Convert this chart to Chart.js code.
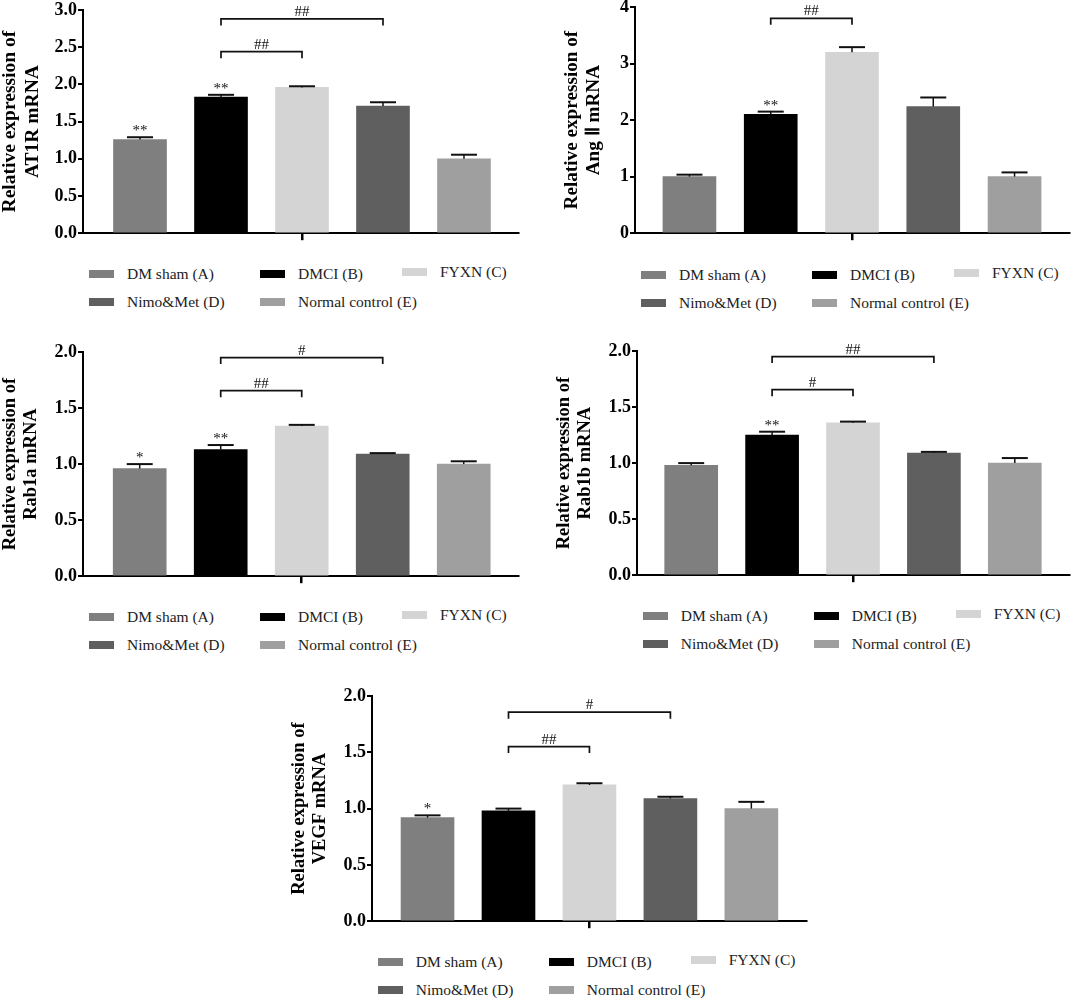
<!DOCTYPE html>
<html>
<head>
<meta charset="utf-8">
<script src="https://cdn.jsdelivr.net/npm/chart.js@4.4.1/dist/chart.umd.min.js"></script>
<style>
  body { margin: 0; background: #fff; }
  #page { position: relative; width: 1072px; height: 1000px; overflow: hidden; background: #fff; }
  canvas { position: absolute; }
  .item { position: absolute; display: flex; align-items: center; height: 20px; white-space: nowrap;
          font-family: "Liberation Serif", "Times New Roman", serif; font-size: 15.5px; color: #222; }
  .sw { display: inline-block; width: 25px; height: 8px; margin-right: 13px; }
</style>
</head>
<body>
<div id="page"></div>
<script>
// groups and their bar colours
const groups = ['DM sham (A)', 'DMCI (B)', 'FYXN (C)', 'Nimo&Met (D)', 'Normal control (E)'];
const colors = ['#7f7f7f', '#000000', '#d4d4d4', '#5f5f5f', '#9f9f9f'];

// AT1R
const at1rValues = [1.26, 1.83, 1.96, 1.71, 1.0];
const at1rErrors = [0.03, 0.03, 0.015, 0.05, 0.055];
const at1rStars = ['**', '**', '', '', ''];
const at1rBrackets = [[1, 3, 2.88, '##'], [1, 2, 2.44, '##']];

// Ang II
const angValues = [1.0, 2.1, 3.2, 2.24, 1.0];
const angErrors = [0.035, 0.05, 0.09, 0.16, 0.075];
const angStars = ['', '**', '', '', ''];
const angBrackets = [[1, 2, 3.8, '##']];

// Rab1a
const rab1aValues = [0.96, 1.13, 1.34, 1.09, 1.0];
const rab1aErrors = [0.04, 0.04, 0.01, 0.008, 0.025];
const rab1aStars = ['*', '**', '', '', ''];
const rab1aBrackets = [[1, 3, 1.95, '#'], [1, 2, 1.655, '##']];

// Rab1b
const rab1bValues = [0.98, 1.25, 1.36, 1.09, 1.0];
const rab1bErrors = [0.02, 0.03, 0.01, 0.01, 0.045];
const rab1bStars = ['', '**', '', '', ''];
const rab1bBrackets = [[1, 3, 1.95, '##'], [1, 2, 1.655, '#']];

// VEGF
const vegfValues = [0.92, 0.98, 1.21, 1.09, 1.0];
const vegfErrors = [0.02, 0.02, 0.015, 0.015, 0.06];
const vegfStars = ['*', '', '', '', ''];
const vegfBrackets = [[1, 3, 1.856, '#'], [1, 2, 1.551, '##']];

const serif = '"Liberation Serif", "Times New Roman", serif';

// where each panel's plot area sits on the page
const panels = [
  { title: ['Relative expression of', 'AT1R mRNA'], values: at1rValues, errors: at1rErrors, stars: at1rStars, brackets: at1rBrackets,
    yMax: 3, yStep: 0.5, digits: 1, box: { x: 83, top: 10, bottom: 235, right: 518, xMin: -0.704, xMax: 4.667, titlePad: 0, titleSize: 19.5 } },
  { title: ['Relative expression of', 'Ang Ⅱ mRNA'], values: angValues, errors: angErrors, stars: angStars, brackets: angBrackets,
    yMax: 4, yStep: 1, digits: 0, box: { x: 635, top: 7.3, bottom: 235.7, right: 1069, xMin: -0.67, xMax: 4.67, titlePad: 10, titleSize: 19.2 } },
  { title: ['Relative expression of', 'Rab1a mRNA'], values: rab1aValues, errors: rab1aErrors, stars: rab1aStars, brackets: rab1aBrackets,
    yMax: 2, yStep: 0.5, digits: 1, box: { x: 83, top: 351.7, bottom: 577.7, right: 518, xMin: -0.70, xMax: 4.67, titlePad: 0, titleSize: 18.5 } },
  { title: ['Relative expression of', 'Rab1b mRNA'], values: rab1bValues, errors: rab1bErrors, stars: rab1bStars, brackets: rab1bBrackets,
    yMax: 2, yStep: 0.5, digits: 1, box: { x: 636.7, top: 351, bottom: 577.3, right: 1069, xMin: -0.67, xMax: 4.67, titlePad: 0, titleSize: 18.5 } },
  { title: ['Relative expression of', 'VEGF mRNA'], values: vegfValues, errors: vegfErrors, stars: vegfStars, brackets: vegfBrackets,
    yMax: 2, yStep: 0.5, digits: 1, box: { x: 371.7, top: 695.7, bottom: 922.7, right: 806, xMin: -0.686, xMax: 4.675, titlePad: 0, titleSize: 18.5 } }
];

const page = document.getElementById('page');

// error bars (upper only), significance stars and comparison brackets
function marksPlugin(p) {
  return {
    id: 'marks',
    afterDatasetsDraw(chart) {
      const { ctx, scales: { x, y } } = chart;
      const bars = chart.getDatasetMeta(0).data;
      ctx.save();
      ctx.strokeStyle = '#111';
      ctx.fillStyle = '#111';
      ctx.textAlign = 'center';
      ctx.textBaseline = 'alphabetic';
      p.values.forEach((v, i) => {
        const bx = bars[i].x;
        const top = y.getPixelForValue(v);
        const cap = y.getPixelForValue(v + p.errors[i]);
        ctx.lineWidth = 1.5;
        ctx.beginPath(); ctx.moveTo(bx, top); ctx.lineTo(bx, cap); ctx.stroke();
        ctx.lineWidth = 2;
        ctx.beginPath(); ctx.moveTo(bx - 13, cap); ctx.lineTo(bx + 13, cap); ctx.stroke();
        if (p.stars[i]) {
          ctx.font = '15px ' + serif;
          ctx.fillText(p.stars[i], bx, cap - 2);
        }
      });
      p.brackets.forEach(([a, b, val, label]) => {
        const xa = x.getPixelForValue(a), xb = x.getPixelForValue(b), yy = y.getPixelForValue(val);
        ctx.lineWidth = 1.7;
        ctx.beginPath();
        ctx.moveTo(xa, yy + 6.5); ctx.lineTo(xa, yy); ctx.lineTo(xb, yy); ctx.lineTo(xb, yy + 6.5);
        ctx.stroke();
        ctx.font = '15px ' + serif;
        ctx.fillText(label, (xa + xb) / 2, yy - 3);
      });
      ctx.restore();
    }
  };
}

function makePanel(p) {
  const b = p.box;
  const w = 84 + (b.right - b.x) + 8;
  const h = 14 + (b.bottom - b.top) + 10;
  const canvas = document.createElement('canvas');
  canvas.width = Math.round(w);
  canvas.height = Math.round(h);
  canvas.style.left = (b.x - 84) + 'px';
  canvas.style.top = (b.top - 14) + 'px';
  canvas.style.width = Math.round(w) + 'px';
  canvas.style.height = Math.round(h) + 'px';
  page.appendChild(canvas);

  new Chart(canvas, {
    type: 'bar',
    data: {
      datasets: [{
        data: p.values.map((v, i) => ({ x: i, y: v })),
        backgroundColor: colors,
        barThickness: 53
      }]
    },
    options: {
      responsive: false,
      animation: false,
      layout: { padding: { top: 14, right: 8, left: 0, bottom: 0 } },
      plugins: { legend: { display: false }, tooltip: { enabled: false } },
      scales: {
        x: {
          type: 'linear',
          min: b.xMin,
          max: b.xMax,
          offset: false,
          ticks: { display: false },
          grid: { offset: false, drawOnChartArea: false, drawTicks: true, tickLength: 7, color: '#000', lineWidth: 2.5 },
          border: { color: '#000', width: 2 },
          afterBuildTicks: s => { s.ticks = [{ value: 2 }]; },
          afterFit: s => { s.height = 10; }
        },
        y: {
          min: 0,
          max: p.yMax,
          ticks: {
            stepSize: p.yStep,
            color: '#000',
            padding: 1,
            font: { family: serif, weight: 'bold', size: 18 },
            callback: v => v.toFixed(p.digits)
          },
          grid: { drawOnChartArea: false, tickLength: 5, color: '#000', lineWidth: 2 },
          border: { color: '#000', width: 2 },
          title: {
            display: true,
            text: p.title,
            color: '#000',
            font: { family: serif, weight: 'bold', size: b.titleSize, lineHeight: 1.16 },
            padding: { top: b.titlePad, bottom: 0 }
          },
          afterFit: s => { s.width = 84; }
        }
      }
    },
    plugins: [marksPlugin(p)]
  });

  // legend: 3 columns, 2 rows under the plot
  const colX = [6, 177, 319];
  const rowY = [39, 67];
  groups.forEach((g, i) => {
    const row = i < 3 ? 0 : 1;
    const col = i < 3 ? i : i - 3;
    const item = document.createElement('div');
    item.className = 'item';
    item.style.left = (b.x + colX[col]) + 'px';
    item.style.top = (b.bottom + rowY[row] - 10 - (i === 2 ? 2 : 0)) + 'px';
    const sw = document.createElement('span');
    sw.className = 'sw';
    sw.style.background = colors[i];
    const label = document.createElement('span');
    label.textContent = g;
    item.appendChild(sw);
    item.appendChild(label);
    page.appendChild(item);
  });
}

panels.forEach(makePanel);
</script>
</body>
</html>
